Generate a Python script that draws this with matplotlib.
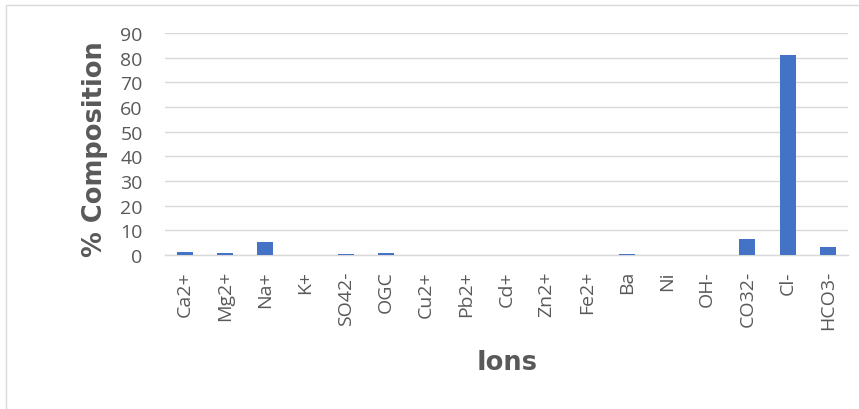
import matplotlib
matplotlib.use("Agg")
import matplotlib.pyplot as plt
from matplotlib.patches import Rectangle

ions = ["Ca2+", "Mg2+", "Na+", "K+", "SO42-", "OGC", "Cu2+", "Pb2+", "Cd+",
        "Zn2+", "Fe2+", "Ba", "Ni", "OH-", "CO32-", "Cl-", "HCO3-"]
composition = [1.1, 0.8, 5.3, 0.0, 0.4, 0.8, 0.0, 0.0, 0.0,
               0.0, 0.0, 0.2, 0.0, 0.0, 6.5, 81.0, 3.2]
yticks = [0, 10, 20, 30, 40, 50, 60, 70, 80, 90]

fig = plt.figure(figsize=(8.59, 4.10), dpi=100)
ax = fig.add_axes([0.192, 0.376, 0.795, 0.541])

x = list(range(len(ions)))
ax.bar(x, composition, width=0.4, color="#4472c4", zorder=3)

ax.set_xlim(-0.5, len(ions) - 0.5)
ax.set_ylim(0, 90)
ax.set_yticks(yticks)
ax.set_xticks(x)
ax.set_xticklabels(ions, rotation=90, fontsize=14, color="#595959",
                   family="Open Sans")
for lbl in ax.get_yticklabels():
    lbl.set_fontsize(14)
    lbl.set_color("#595959")
    lbl.set_family("Open Sans")

ax.grid(axis="y", color="#d9d9d9", linewidth=1.0, zorder=0)
for side in ["top", "right", "left"]:
    ax.spines[side].set_visible(False)
ax.spines["bottom"].set_color("#d9d9d9")
ax.spines["bottom"].set_linewidth(1.0)
ax.tick_params(axis="both", length=0)
ax.tick_params(axis="x", pad=11)
ax.tick_params(axis="y", pad=16)

fig.text(95 / 859, 1 - 149 / 410, "% Composition", rotation=90,
         ha="center", va="center", fontsize=18.5, fontweight="heavy",
         color="#595959", family="DejaVu Sans")
fig.text(507 / 859, 1 - 363 / 410, "Ions", ha="center", va="center",
         fontsize=18.5, fontweight="heavy", color="#595959",
         family="DejaVu Sans")

# chart area outline
fig.add_artist(Rectangle((6 / 859, -0.1), 1.2, 1.1 - 6 / 410,
                         transform=fig.transFigure, fill=False,
                         edgecolor="#d9d9d9", linewidth=1.0))

fig.savefig("out.png", dpi=100)
